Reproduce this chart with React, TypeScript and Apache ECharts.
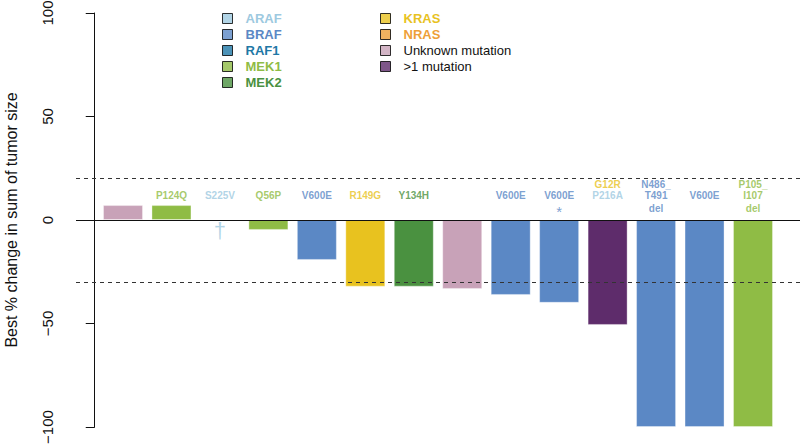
import React, { useEffect, useRef } from "react";
import * as echarts from "echarts";

// ---------- data ----------
const bestChange: (number | null)[] = [7.2, 7.2, null, -4.8, -19.3, -32.2, -32.2, -33.3, -36.2, -40, -50.7, -100, -100, -100];
const barTypes = [
  "Unknown mutation", "MEK1", "ARAF", "MEK1", "BRAF", "KRAS", "MEK2",
  "Unknown mutation", "BRAF", "BRAF", ">1 mutation", "BRAF", "BRAF", "MEK1",
];
// label lines per bar, by row (top row, middle row, bottom row)
const labelLines: string[][] = [
  [],
  ["", "P124Q"],
  ["", "S225V"],
  ["", "Q56P"],
  ["", "V600E"],
  ["", "R149G"],
  ["", "Y134H"],
  [],
  ["", "V600E"],
  ["", "V600E", "*"],
  ["G12R", "P216A"],
  ["N486_", "T491", "del"],
  ["", "V600E"],
  ["P105_", "I107", "del"],
];
const labelTypes: string[][] = [
  [],
  ["", "MEK1"],
  ["", "ARAF"],
  ["", "MEK1"],
  ["", "BRAF"],
  ["", "KRAS"],
  ["", "MEK2"],
  [],
  ["", "BRAF"],
  ["", "BRAF", "BRAF"],
  ["KRAS", "ARAF"],
  ["BRAF", "BRAF", "BRAF"],
  ["", "BRAF"],
  ["MEK1", "MEK1", "MEK1"],
];
const footnoteMarks = ["", "", "†", "", "", "", "", "", "", "", "", "", "", ""];
const legendCol1 = ["ARAF", "BRAF", "RAF1", "MEK1", "MEK2"];
const legendCol2 = ["KRAS", "NRAS", "Unknown mutation", ">1 mutation"];
const yTicks = { min: -100, max: 100, interval: 50 };
const refLines = [20, -30];

// ---------- styles ----------
const typeColors: Record<string, string> = {
  ARAF: "#9dc9e0",
  BRAF: "#5b88c5",
  RAF1: "#1f78a6",
  MEK1: "#8fbc45",
  MEK2: "#4a9140",
  KRAS: "#e8c21f",
  NRAS: "#ee9f38",
  "Unknown mutation": "#c8a2b8",
  ">1 mutation": "#5e2c6b",
};
const FONT = "'Liberation Sans', Arial, Helvetica, sans-serif";
const ROW_Y = [17.2, 11.6, 5.4];
const MARK_Y = -5;
const slot = (i: number) => 0.7 + 1.2 * i;

export default function App() {
  const ref = useRef<HTMLDivElement>(null);
  useEffect(() => {
    if (!ref.current) return;
    const chart = echarts.init(ref.current, undefined, { renderer: "svg" });

    const barData = bestChange.map((v, i) => ({
      value: [slot(i), v],
      itemStyle: { color: typeColors[barTypes[i]] },
    }));

    const labelData: any[] = [];
    labelLines.forEach((lines, i) => {
      lines.forEach((t, r) => {
        if (!t) return;
        const star = t === "*";
        labelData.push({
          value: [slot(i), ROW_Y[r]],
          label: {
            formatter: t,
            color: typeColors[labelTypes[i][r]],
            fontSize: star ? 15 : 10,
            fontWeight: star ? "normal" : "bold",
            offset: star ? [0, 3] : [0, 0],
          },
        });
      });
    });
    const markData: any[] = [];
    footnoteMarks.forEach((m, i) => {
      if (!m) return;
      markData.push({
        value: [slot(i), MARK_Y],
        label: { formatter: m, color: typeColors[barTypes[i]] },
      });
    });

    const legendItem = (name: string) => {
      const isGene = typeColors[name] && !["Unknown mutation", ">1 mutation"].includes(name);
      return {
        name,
        textStyle: {
          color: isGene ? typeColors[name] : "#111",
          fontWeight: isGene ? "bold" : "normal",
        },
      };
    };
    const legendBase = {
      orient: "vertical",
      top: 12,
      padding: 0,
      itemWidth: 10,
      itemHeight: 10,
      itemGap: 3,
      icon: "rect",
      selectedMode: false,
      itemStyle: { borderColor: "#000", borderWidth: 1 },
      textStyle: { fontFamily: FONT, fontSize: 13, lineHeight: 13, padding: [0, 0, 0, 8] },
    };

    const option: any = {
      animation: false,
      backgroundColor: "#fff",
      grid: { left: 76, right: 0, top: 13, bottom: 18, containLabel: false, outerBoundsMode: "none" },
      legend: [
        { ...legendBase, left: 222, data: legendCol1.map(legendItem) },
        { ...legendBase, left: 380, data: legendCol2.map(legendItem) },
      ],
      xAxis: {
        type: "value",
        min: -0.464,
        max: 17.464,
        show: false,
      },
      yAxis: {
        type: "value",
        min: yTicks.min,
        max: yTicks.max,
        interval: yTicks.interval,
        name: "Best % change in sum of tumor size",
        nameLocation: "middle",
        nameGap: 57,
        nameTextStyle: { fontFamily: FONT, fontSize: 16, color: "#111" },
        axisLine: { show: true, lineStyle: { color: "#111", width: 1 } },
        axisTick: { show: true, length: 9, lineStyle: { color: "#111" } },
        axisLabel: {
          rotate: 90,
          margin: 21,
          fontFamily: FONT,
          fontSize: 15,
          color: "#111",
          formatter: (v: number) => (v < 0 ? "\u2212" + Math.abs(v) : String(v)),
        },
        splitLine: { show: false },
      },
      series: [
        {
          type: "bar",
          name: "Best change",
          data: barData,
          barWidth: 40,
          itemStyle: { borderColor: "rgba(255,255,255,0.35)", borderWidth: 1 },
          markLine: {
            silent: true,
            symbol: "none",
            label: { show: false },
            data: [
              { yAxis: 0, lineStyle: { color: "#111", width: 1, type: "solid" } },
              ...refLines.map((y) => ({
                yAxis: y,
                lineStyle: { color: "#333", width: 1, type: [4, 4] },
              })),
            ],
          },
          z: 2,
        },
        {
          type: "scatter",
          name: "labels",
          data: labelData,
          symbolSize: 0,
          z: 3,
          label: {
            show: true,
            position: "inside",
            fontFamily: FONT,
            fontSize: 10,
            fontWeight: "bold",
          },
        },
        {
          type: "scatter",
          name: "marks",
          data: markData,
          symbolSize: 0,
          z: 3,
          label: { show: true, position: "inside", fontFamily: FONT, fontSize: 22 },
        },
        ...[...legendCol1, ...legendCol2].map((name) => ({
          type: "scatter",
          name,
          data: [],
          itemStyle: { color: typeColors[name] },
        })),
      ],
    };
    chart.setOption(option);
    return () => chart.dispose();
  }, []);
  return <div ref={ref} style={{ width: 800, height: 445, position: "absolute", left: 0, top: 0 }} />;
}
